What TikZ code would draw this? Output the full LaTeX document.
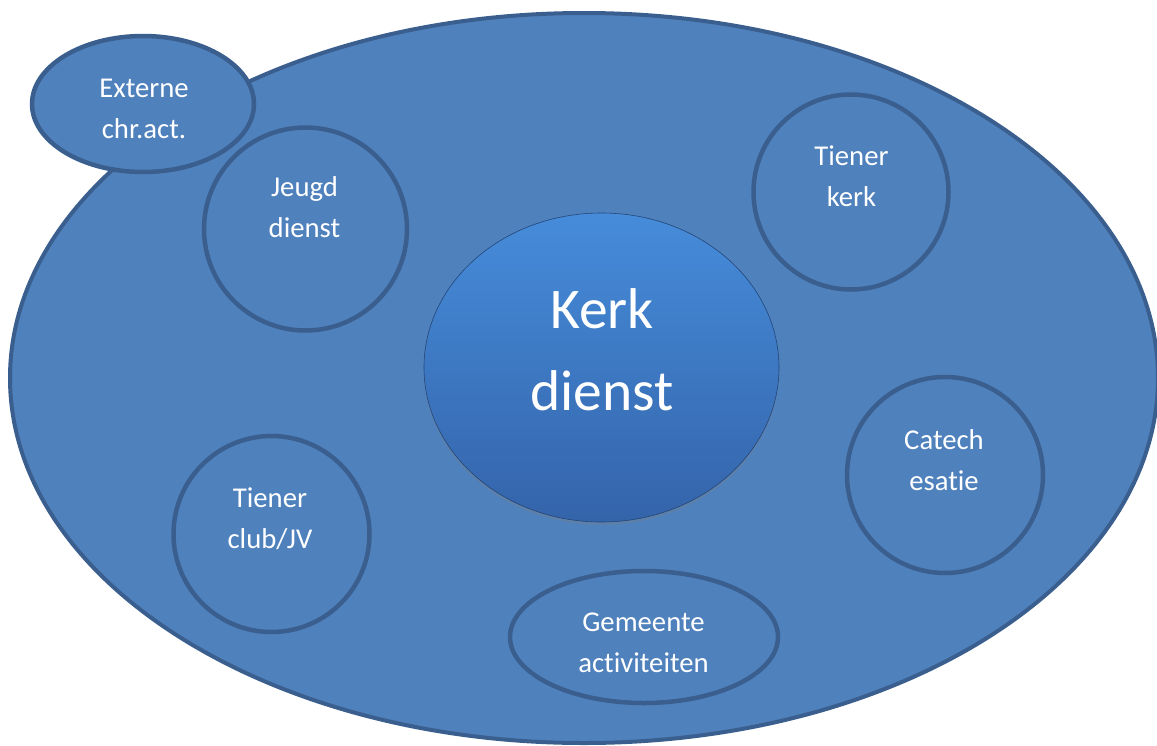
\documentclass[tikz,border=0pt]{standalone}
\usepackage{fontspec}
\setmainfont{Carlito}[Ligatures={NoCommon}]
\usetikzlibrary{shapes.geometric,shadows}
\definecolor{fillblue}{HTML}{4F81BD}
\definecolor{lineblue}{HTML}{3A5F8F}
\definecolor{kerktop}{RGB}{70,140,218}
\definecolor{kerkbot}{RGB}{52,100,170}
\begin{document}
\begin{tikzpicture}[x=1pt,y=-1pt,
  blob/.style={ellipse,draw=lineblue,fill=fillblue,line width=4.5pt,inner sep=0pt},
  circ/.style={circle,draw=lineblue,fill=fillblue,line width=4.5pt,inner sep=0pt,minimum size=#1},
  lbl/.style={text=white,align=center,inner sep=0pt,font=\fontsize{28.7}{41}\selectfont},
  biglbl/.style={text=white,align=center,inner sep=0pt,font=\fontsize{57.5}{82}\selectfont}]
\useasboundingbox (0,0) rectangle (1157,745);
% outer field
\node[blob,line width=4pt,minimum width=1148pt,minimum height=730pt] (outer) at (584,378) {};
% satellites
\node[blob,minimum width=222pt,minimum height=136pt] (ext) at (143,104) {};
\node[circ=203pt] (jeugd) at (305.5,229) {};
\node[circ=195pt] (tkerk) at (851,192) {};
\node[circ=196pt] (cat) at (945,475) {};
\node[circ=196pt] (tclub) at (271.5,534) {};
\node[blob,minimum width=268pt,minimum height=132pt] (gem) at (644,637) {};
% centre
\node[ellipse,minimum width=355pt,minimum height=309pt,inner sep=0pt,
  top color=kerktop,bottom color=kerkbot,draw=kerkbot!70!black,line width=0.6pt,
  drop shadow={shadow xshift=0pt,shadow yshift=-3pt,opacity=0.3}] (kerk) at (601.5,367.5) {};
% labels
\node[lbl] (extl) at (144,109.3) {\strut Externe\\\strut chr.act.};
\node[lbl] (jeugdl) at (304.5,208.3) {\strut Jeugd\\\strut dienst};
\node[lbl] (tkerkl) at (851.5,177.3) {\strut Tiener\\\strut kerk};
\node[lbl] (catl) at (944,461.3) {\strut Catech\\\strut esatie};
\node[lbl] (tclubl) at (270,519.3) {\strut Tiener\\\strut club/JV};
\node[lbl] (geml) at (643.5,643.3) {\strut Gemeente\\\strut activiteiten};
\node[biglbl] (kerkl) at (602,352.6) {\strut Kerk\\\strut dienst};
\end{tikzpicture}
\end{document}
